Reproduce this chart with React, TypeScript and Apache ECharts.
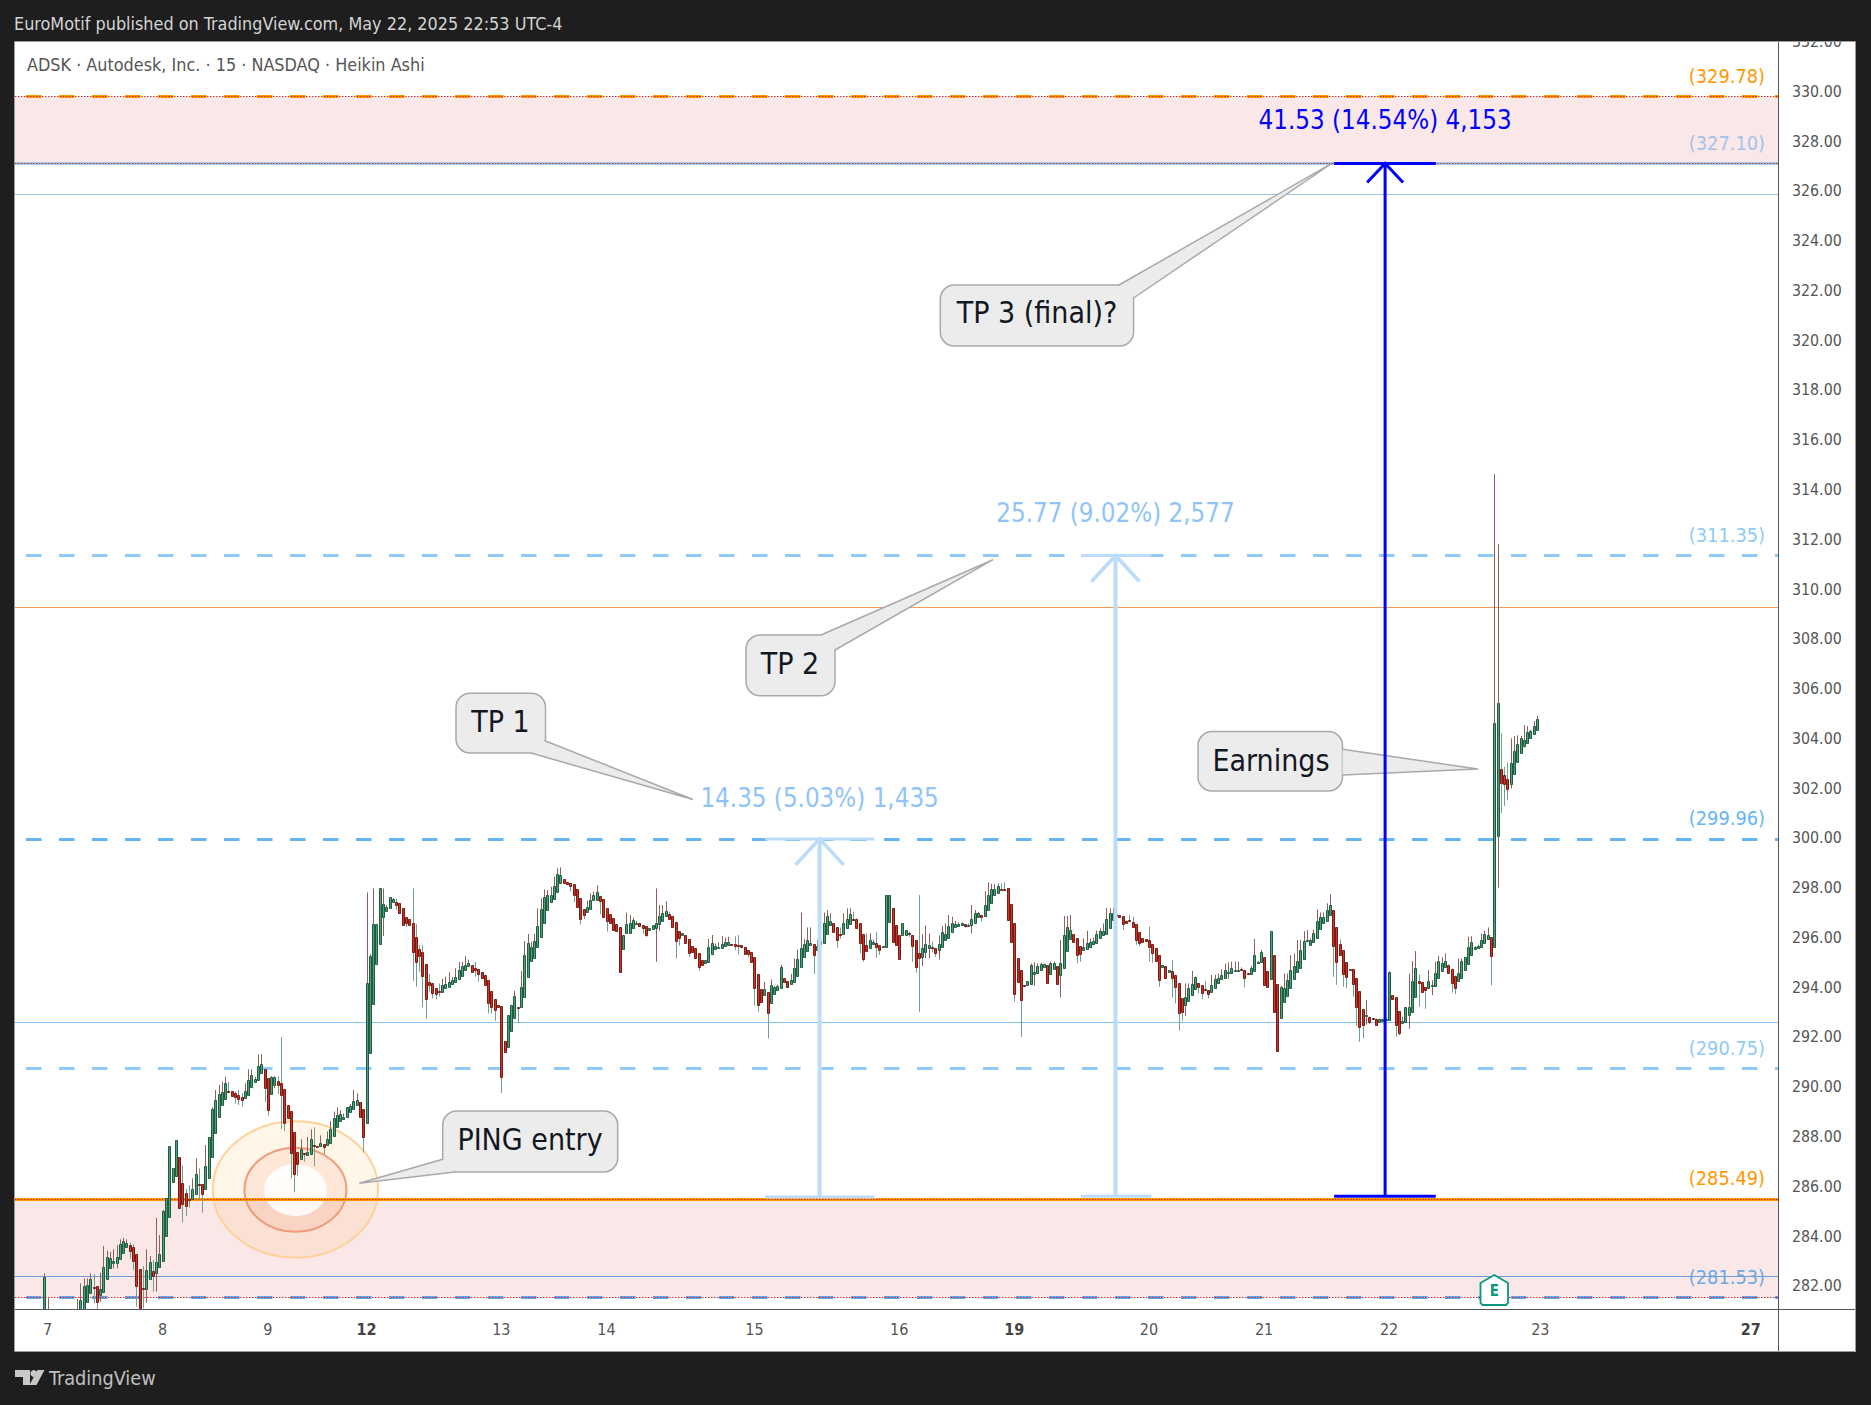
import React, { useEffect, useRef } from "react";
import * as echarts from "echarts";

const FONT = "DejaVu Sans Condensed, DejaVu Sans, sans-serif";

const headerText = "EuroMotif published on TradingView.com, May 22, 2025 22:53 UTC-4";
const symbolText = "ADSK · Autodesk, Inc. · 15 · NASDAQ · Heikin Ashi";
const brandText = "TradingView";

const priceTicks = [282, 284, 286, 288, 290, 292, 294, 296, 298, 300, 302, 304, 306, 308, 310, 312, 314, 316, 318, 320, 322, 324, 326, 328, 330, 332];
const dayLabels = ["7", "8", "9", "12", "13", "14", "15", "16", "19", "20", "21", "22", "23", "27"];
const dayBars = [1, 36, 68, 98, 139, 171, 216, 260, 295, 336, 371, 409, 455, 519];
const boldDays = ["12", "19", "27"];

const zoneUpper = [327.1, 329.78];
const zoneLower = [281.53, 285.49];
const targetLevels = [329.78, 327.1, 311.35, 299.96, 290.75, 285.49, 281.53];
const plainLevels = [325.85, 309.26, 292.6, 282.37];

const measureNames = ["14.35 (5.03%) 1,435", "25.77 (9.02%) 2,577", "41.53 (14.54%) 4,153"];
const measureBars = [235.8, 325.8, 407.8];
const measureCapStart = [219.2, 315.3, 392.3];
const measureCapEnd = [252.5, 336.7, 423.2];
const measureFrom = [285.57, 285.6, 285.6];
const measureTo = [299.96, 311.35, 327.1];

// [open, close, low, high] per 15-minute Heikin Ashi bar; null = below the visible range
const candles: (number[] | null)[] = [
  [280.6,282.34,280.5,282.5],[280.5,280.9,280.3,281.5],null,null,null,null,null,null,null,null,
  [280.6,280.9,280.4,281.47],[280.7,281.43,280.6,282.1],[281,282,281,282.3],[281.36,282.02,281.36,282.3],[281.7,282.26,281.7,282.5],
  [281.97,281.9,281.3,282.48],[282,281.36,281.03,282],[281.63,281.86,281.36,282.53],[281.77,282.77,281.77,283.6],[282.26,283.15,282.26,283.41],
  [282.7,283.1,282.7,283.36],[282.9,283,282.7,283.47],[282.93,283.15,282.7,283.64],[283.07,283.67,283.07,283.87],[283.33,283.79,283.33,283.92],
  [283.57,283.71,283.57,283.87],[283.65,283.41,283.09,283.74],[283.55,283.01,282.64,283.68],[283.27,282.01,281.16,283.27],[282.66,281.11,281.03,282.66],
  [281.9,281.86,281.1,282.8],[281.86,282.64,281.32,283.47],[282.26,282.95,282.26,283.2],[282.58,282.41,281.77,283.04],[282.5,282.95,281.77,284.73],
  [282.74,283.28,282.74,284.04],[283.01,285,283.01,285.05],[284,285.52,284,285.52],[284.75,287.61,284.75,287.61],[286.19,286.72,286.19,286.72],
  [286.43,287.85,286.43,287.85],[287.16,285.12,285.12,287.16],[286.12,285.28,284.54,286.84],[285.72,285.22,284.81,285.89],[285.5,285.47,285.14,286.05],
  [285.48,285.88,285.48,286.32],[285.68,286.48,285.68,287.12],[286.08,286.05,285.45,286.72],[286.08,285.68,284.94,286.08],[285.88,286.8,285.88,287.66],
  [286.32,287.97,286.32,287.97],[287.16,289.09,287.16,289.17],[288.13,289.45,288.13,289.87],[288.77,289.69,288.77,290.07],[289.25,289.78,289.25,290.2],
  [289.49,290.14,289.49,290.4],[289.82,289.79,289.79,290.2],[289.82,289.61,289.61,289.82],[289.74,289.57,289.33,289.81],[289.65,289.49,289.27,289.87],
  [289.57,289.45,289.2,289.74],[289.53,289.82,289.53,290.14],[289.65,290.26,289.65,290.7],[289.98,290.46,289.98,290.7],[290.2,290.3,290.2,290.4],
  [290.26,290.82,290.26,291.29],[290.54,290.9,290.54,291.32],[290.7,289.94,289.39,290.7],[290.34,289.05,288.84,290.34],[289.69,290.38,289.69,290.42],
  [290.06,290.38,289.94,290.42],[290.22,290.06,289.71,290.42],[290.14,289.65,288.3,291.99],[289.9,288.56,288.22,289.9],[289.25,288.76,288.76,289.25],
  [289.01,287.35,286.32,289.01],[288.17,286.51,285.76,288.17],[287.39,286.91,286.43,287.39],[287.11,287.48,287.11,287.89],[287.32,287.28,286.99,287.32],
  [287.27,287.36,287.27,287.98],[287.31,287.89,287.31,288.29],[287.65,287.62,286.81,288.37],[287.6,287.58,287.58,287.62],[287.6,287.73,287.6,288.05],
  [287.68,287.59,287.3,287.68],[287.65,287.89,287.65,288.2],[287.75,288.29,287.75,288.62],[288.01,288.73,288.01,289],[288.37,288.85,288.37,289.17],
  [288.61,288.89,288.61,289.06],[288.7,288.8,288.7,288.93],[288.77,289.17,288.77,289.17],[288.97,289.21,288.97,289.3],[289.09,289.41,289.09,289.87],
  [289.25,289.45,289.25,289.74],[289.37,288.8,288.8,289.37],[289.09,287.97,287.36,289.09],[288.53,294.15,288.53,297.81],[291.34,295.25,291.34,295.32],
  [293.31,296.54,293.31,297.97],[294.92,296.54,294.92,296.54],[295.72,297.97,295.72,297.97],[296.83,297.33,296.06,297.97],[297.07,297.23,297.07,297.3],
  [297.17,297.61,297.17,297.61],[297.41,297.53,297.41,297.59],[297.44,297.29,297.1,297.57],[297.37,296.97,296.97,297.37],[297.17,296.48,296.48,297.17],
  [296.83,296.6,296.43,296.83],[296.73,296.48,296.48,296.73],[296.6,295.43,294.26,297.97],[296,295.02,294.02,296.54],[295.52,295.27,294.62,295.69],
  [295.4,294.46,293.2,295.69],[294.92,293.51,292.73,294.92],[294.19,294.07,293.82,294.53],[294.15,293.75,293.55,294.15],[293.95,293.71,293.51,293.95],
  [293.83,293.8,293.62,294.15],[293.82,294.07,293.82,294.35],[293.95,294.11,293.95,294.42],[294,294.19,294,294.6],[294.11,294.27,294.11,294.42],
  [294.19,294.43,294.19,294.76],[294.31,294.68,294.31,295.01],[294.47,294.84,294.47,295.01],[294.68,294.9,294.68,295.25],[294.84,294.96,294.84,295.11],
  [294.88,294.6,294.6,294.88],[294.76,294.68,294.42,295.01],[294.72,294.52,294.22,294.72],[294.6,294.39,294.35,294.6],[294.48,294.07,294.07,294.48],
  [294.27,293.35,292.95,294.27],[293.83,293.19,292.95,293.83],[293.51,293.07,292.65,293.51],[293.27,293.2,293.2,293.27],[293.24,290.4,289.75,293.24],
  [291.82,291.41,291.41,291.82],[291.61,292.87,291.61,292.87],[292.25,293.27,292.25,293.27],[292.77,293.63,292.77,293.85],[293.2,293.15,292.55,293.2],
  [293.19,294.01,293.19,294.65],[293.59,295.28,293.59,295.85],[294.42,295.76,294.42,296.14],[295.07,295.6,295.07,295.83],[295.19,295.84,295.19,296.14],
  [295.6,296.44,295.6,297.17],[296,297.14,296,297.57],[296.56,297.61,296.56,297.93],[297.09,297.69,297.09,297.9],[297.41,297.69,297.41,298.04],
  [297.53,298.05,297.53,298.44],[297.81,298.53,297.81,298.78],[298.17,298.49,298.17,298.82],[298.33,298.17,298.17,298.33],[298.24,298.15,298.15,298.24],
  [298.17,298.05,297.85,298.17],[298.13,297.69,297.41,298.13],[297.93,297.21,297.21,297.93],[297.57,296.73,296.52,297.57],[297.13,296.89,296.73,297.13],
  [297.01,297.21,297.01,297.48],[297.13,297.49,297.13,297.77],[297.49,297.69,297.49,297.84],[297.49,297.81,297.49,298.1],[297.65,297.45,296.93,297.65],
  [297.53,296.81,296.81,297.53],[297.17,296.65,296.24,297.17],[296.93,296.6,296.6,296.93],[296.77,296.28,296.28,296.77],[296.52,296.24,296.24,296.52],
  [296.4,294.62,294.62,296.4],[295.52,296.08,295.52,296.08],[296.16,296.52,296.16,297],[296.16,296.56,296.16,296.9],[296.36,296.71,296.36,296.8],
  [296.52,296.6,296.52,296.66],[296.56,296.44,296.44,296.56],[296.48,296.36,296.16,296.48],[296.44,296.08,296.02,296.44],[296.28,296.36,296.28,296.36],
  [296.32,296.48,296.32,296.48],[296.36,296.6,295.02,297.97],[296.52,296.85,296.27,297.3],[296.68,296.97,296.68,297.3],[296.85,297.05,296.85,297.46],
  [296.93,296.73,296.73,297.03],[296.85,296.4,296.4,296.85],[296.64,295.84,295.15,296.64],[296.24,295.96,295.67,296.24],[296.08,296.16,296.08,296.16],
  [296.08,295.76,295.76,296.08],[295.92,295.39,295.23,295.92],[295.64,295.43,295.43,295.64],[295.56,295.16,295.16,295.56],[295.36,294.8,294.66,295.36],
  [295.08,294.88,294.88,295.08],[294.96,295.08,294.96,295.08],[295,295.6,295,295.94],[295.32,295.76,295.32,296.1],[295.52,295.64,295.52,295.76],
  [295.6,295.6,295.6,295.8],[295.56,295.72,295.56,296.05],[295.64,295.8,295.64,296],[295.71,295.8,295.71,296.03],[295.73,295.68,295.68,295.73],
  [295.72,295.67,295.5,296.05],[295.71,295.68,295.32,296.1],[295.68,295.6,295.6,295.68],[295.63,295.32,295.32,295.63],[295.48,295.32,295.2,295.48],
  [295.4,295,295,295.4],[295.2,293.95,293.26,295.2],[294.55,293.27,293,294.55],[293.91,293.39,293.39,293.91],[293.67,293.91,293.67,294.22],
  [293.79,292.95,291.94,293.79],[293.35,294.07,293.35,294.31],[293.71,293.99,293.71,294.05],[293.87,294.03,293.87,294.1],[293.95,294.8,293.95,294.9],
  [294.35,294.19,294.19,294.35],[294.23,293.99,293.99,294.23],[294.11,294.27,294.11,294.54],[294.19,294.76,294.19,295.16],[294.47,295.12,294.47,295.52],
  [294.8,295.56,294.8,297],[295.2,295.72,295.2,295.94],[295.44,295.88,295.44,296.4],[295.68,295.76,295.68,296.4],[295.72,295.28,294.54,295.72],
  [295.48,295.64,295.48,295.9],[295.72,295.84,295.72,296.23],[295.76,296.56,295.76,297],[296.12,296.85,296.12,297.1],[296.48,296.68,296.48,296.97],
  [296.56,296.2,296.2,296.56],[296.4,295.88,295.59,296.4],[296.12,296.1,295.95,296.4],[296.12,296.56,296.12,296.97],[296.36,296.73,296.36,297.17],
  [296.52,296.93,296.52,297.17],[296.76,296.7,296.7,297.03],[296.76,296.36,296.36,296.76],[296.56,295.76,295.36,296.56],[296.14,295.14,295.02,296.14],
  [295.68,295.44,295.44,296.16],[295.56,295.88,295.56,296.16],[295.72,295.8,295.72,295.9],[295.76,295.6,295.18,296.23],[295.68,295.48,295.3,295.68],
  [295.6,295.64,295.6,295.64],[295.6,297.69,295.6,297.69],[296.64,297.69,296.64,297.69],[297.17,295.8,295.8,297.17],[296.48,295.68,295.68,296.48],
  [296.08,295.12,295.12,296.08],[296.08,296.56,296.08,296.56],[296.08,296.28,296.08,296.28],[296.16,296.14,296.02,296.24],[296.08,295.64,295.02,296.08],
  [295.88,294.8,294.58,295.88],[295.36,295.16,293.01,297.7],[295.22,295.56,294.85,296.12],[295.4,295.72,295.16,296.48],[295.56,295.68,295.16,296.16],
  [295.6,295.56,295.4,295.83],[295.56,295.36,295.22,295.56],[295.48,295.72,295.11,296.08],[295.6,296.2,295.6,296.47],[295.88,296.12,295.88,296.56],
  [295.96,296.44,295.96,296.9],[296.2,296.6,296.2,296.83],[296.4,296.52,296.4,296.67],[296.44,296.52,296.44,296.6],[296.48,296.56,296.48,296.6],
  [296.52,296.44,296.4,296.52],[296.48,296.5,296.48,296.55],[296.48,296.76,296.16,297.3],[296.6,297,296.6,297.1],[296.81,296.97,296.81,297.03],
  [296.89,296.81,296.63,296.89],[296.85,297.29,296.85,297.86],[297.09,297.69,297.09,298.21],[297.37,297.93,297.37,298.15],[297.69,297.93,297.69,298.15],
  [297.77,298.05,297.77,298.17],[297.95,297.93,297.93,298.17],[297.95,297.93,297.93,298.21],[297.97,296.69,296.69,297.97],[297.33,295.8,295.8,297.33],
  [296.56,293.71,293.42,296.56],[295.16,294.19,294.19,295.16],[294.68,293.47,292.01,294.68],[294.08,294.06,294.06,294.08],[294.07,294.23,294.07,294.23],
  [294.11,294.88,294.11,294.95],[294.52,294.6,294.06,295],[294.56,294.84,294.56,294.96],[294.68,294.92,294.68,294.99],[294.8,294.92,294.8,294.95],
  [294.88,294.15,294.15,294.88],[294.52,294.96,294.52,295.03],[294.72,294.96,294.72,295.03],[294.84,294.11,294.11,294.84],[294.48,294.99,293.59,295.9],
  [294.76,296.08,294.76,296.86],[295.44,296.4,295.44,296.86],[295.92,296.28,295.92,296.9],[296.12,295.8,295.8,296.12],[295.96,295.28,294.96,295.96],
  [295.64,295.32,295.02,295.64],[295.48,295.6,295.48,295.96],[295.52,295.76,295.52,296.27],[295.6,295.8,295.6,295.96],[295.72,295.84,295.72,296],
  [295.76,296.12,295.76,296.27],[295.96,296.24,295.96,296.36],[296.08,296.24,296.08,296.56],[296.12,296.76,296.12,297.19],[296.36,296.97,296.36,297.17],
  [296.72,296.97,296.72,297.19],[296.85,296.93,296.85,297.1],[296.89,296.81,296.81,296.89],[296.85,296.52,296.3,296.85],[296.68,296.6,296.56,296.68],
  [296.69,296.68,296.68,296.9],[296.64,296.4,296.4,296.83],[296.52,295.88,295.7,296.52],[296.2,295.76,295.65,296.2],[295.96,295.8,295.8,295.96],
  [295.92,295.84,295.84,295.92],[295.88,295.6,295.02,296.43],[295.72,295.36,294.98,295.72],[295.56,295.04,295.04,295.56],[295.28,294.27,294.02,295.28],
  [294.8,294.88,294.8,294.88],[294.84,294.39,294.39,294.84],[294.6,294.68,294.6,294.68],[294.64,294.35,293.58,295.09],[294.48,294.02,293.35,294.48],
  [294.15,292.95,292.25,294.15],[293.55,292.99,292.65,293.55],[293.27,293.59,292.85,294.15],[293.43,293.95,293.43,294.15],[293.67,294.11,293.67,294.66],
  [293.91,294.43,293.91,294.43],[294.15,293.99,293.75,294.15],[294.07,293.75,293.51,294.07],[293.91,293.89,293.89,294.25],[293.87,293.71,293.55,293.87],
  [293.79,294.07,293.79,294.49],[293.95,294.31,293.95,294.49],[294.15,294.39,294.15,294.55],[294.31,294.51,294.31,294.71],[294.39,294.68,294.39,294.95],
  [294.58,294.6,294.35,295],[294.56,294.76,294.56,295.03],[294.68,294.69,294.68,295.03],[294.68,294.69,294.68,295.03],[294.72,294.71,294.7,294.8],
  [294.68,294.35,294,294.68],[294.56,294.55,294.55,294.56],[294.52,294.76,294.52,294.86],[294.64,295.28,294.64,295.94],[295,295,295,295.05],
  [295,295.4,295,295.5],[295.2,294.07,294.07,295.2],[294.64,293.99,293.99,294.64],[294.31,296.24,294.31,296.24],[295.28,292.99,292.99,295.28],
  [294.11,291.42,291.42,294.11],[292.78,293.99,292.78,294.05],[293.39,293.95,293.39,294.55],[293.63,294.27,293.63,294.55],[293.95,294.68,293.95,295.29],
  [294.31,294.84,294.31,295.35],[294.6,295.04,294.6,295.9],[294.76,295.48,294.76,295.9],[295.12,295.84,295.12,296.25],[295.88,295.9,295.88,296.3],
  [295.68,295.88,295.68,295.96],[295.8,296.16,295.8,296.32],[295.96,296.68,295.96,297.13],[296.32,296.81,296.32,297],[296.56,296.81,296.56,297],
  [296.68,297.09,296.68,297.37],[296.89,297.29,296.89,297.73],[297.09,295.67,294.42,297.09],[296.4,295,294.1,296.4],[295.72,295.28,295.28,295.92],
  [295.48,294.52,294.02,295.48],[295,294.43,293.95,295],[294.72,294.71,294.71,294.72],[294.72,294.11,293.62,294.72],[294.39,293.21,292.44,294.39],
  [293.83,292.41,291.81,293.83],[293.11,292.49,291.94,293.11],[292.85,292.88,292.5,293.48],[292.82,292.61,292.52,292.82],[292.75,292.74,292.74,292.75],
  [292.74,292.49,292.49,292.74],[292.61,292.74,292.61,292.74],[292.65,292.73,292.65,292.73],[292.72,292.74,292.72,292.74],[292.69,294.63,292.69,294.63],
  [293.67,293.51,293.51,293.67],[293.59,292.49,292.01,293.59],[293.03,292.17,292.07,293.03],[292.58,292.66,292.58,292.81],[292.61,293.19,292.61,293.19],
  [292.89,293.19,292.33,294.55],[293.01,294.23,293.01,295.05],[293.62,294.79,293.62,295.45],[294.23,294.15,293.21,294.5],[294.19,293.82,293.82,294.19],
  [293.99,293.87,293.13,293.99],[293.95,294.23,293.95,294.69],[294.07,294.08,293.68,294.28],[294.06,294.59,294.06,295.02],[294.35,295.04,294.35,295.25],
  [294.67,294.99,294.67,295.2],[294.83,295.04,294.83,295.36],[294.91,294.59,294.59,294.91],[294.75,294.15,293.78,294.75],[294.47,293.98,293.72,294.47],
  [294.23,294.59,294.23,295.15],[294.39,295.04,294.39,295.15],[294.71,295.2,294.71,295.22],[294.95,295.6,294.95,296.03],[295.28,295.8,295.28,296.05],
  [295.52,295.6,295.52,295.65],[295.56,295.64,295.56,295.7],[295.6,295.88,295.6,296.16],[295.76,296.12,295.76,296.27],[295.92,296.08,295.92,296.4],
  [296,295.24,294.08,296],[295.63,304.6,295.63,314.62],[300.09,305.44,298,311.8],[302.75,302.21,301,304.2],[302.51,302.15,301.29,302.86],
  [302.35,301.97,301.52,303.02],[302.15,302.99,301.98,304],[302.55,303.51,302.55,304.09],[303.03,303.79,303.03,304.12],[303.43,304,303.43,304.1],
  [303.71,303.95,303.63,304.53],[303.83,304.24,303.83,304.49],[304.03,304.28,304.03,304.35],[304.16,304.48,304.16,304.69],[304.32,304.76,304.32,304.9],
];

const level = (value: number, color: string, width: number, type: any, dashOffset = 0) => ({
  yAxis: value,
  lineStyle: { color, width, type, dashOffset, opacity: 1 },
  label: { show: false },
});
const labelled = (value: number, color: string, width: number, type: any, dashOffset: number, labelColor: string) => ({
  yAxis: value,
  lineStyle: { color, width, type, dashOffset, opacity: 1 },
  label: {
    show: true,
    position: "insideEndTop",
    formatter: `(${value.toFixed(2)})`,
    color: labelColor,
    fontSize: 19.8,
    fontFamily: FONT,
    distance: [13, 10],
  },
});

function callout(box: number[], tail: number[][], text: string, textAt: number[]) {
  const [x, y, w, h] = box;
  const common = { silent: true, z: 5.5 };
  return [
    { type: "rect", shape: { x, y, width: w, height: h, r: 14 }, style: { fill: "#ececec", stroke: "#a9a9ad", lineWidth: 1.5 }, ...common },
    { type: "polygon", shape: { points: tail }, style: { fill: "#ececec" }, ...common },
    { type: "polyline", shape: { points: tail }, style: { fill: "none", stroke: "#a9a9ad", lineWidth: 1.5 }, ...common },
    {
      type: "text", x: textAt[0], y: textAt[1],
      style: { text, fill: "#131722", fontSize: 30, fontFamily: FONT, align: "center", verticalAlign: "middle", textAlign: "center", textVerticalAlign: "middle" },
      ...common, z: 5.6,
    },
  ];
}

export default function App() {
  const ref = useRef<HTMLDivElement>(null);
  useEffect(() => {
    document.body.style.margin = "0";
    document.body.style.background = "#1e1e1e";
    const chart = echarts.init(ref.current!, undefined, { renderer: "svg" });

    const S1 = [15.5, 17.5];
    const candleData = candles.map((r, i) => (r ? [i, ...r] : null)).filter(Boolean);
    const measureLift = [41, 42, 43];

    const option: any = {
      animation: false,
      backgroundColor: "#1e1e1e",
      grid: { left: 15, top: 41.5, width: 1763, height: 1267.5, containLabel: false },
      xAxis: {
        type: "value", min: -8.91, max: 527.3, z: 2,
        splitLine: { show: false },
        axisTick: { show: false },
        axisLine: { show: true, onZero: false, lineStyle: { color: "#555", width: 1 } },
        axisLabel: {
          customValues: dayBars, margin: 12, hideOverlap: false, showMinLabel: true, showMaxLabel: true,
          color: "#555", fontSize: 16, fontFamily: FONT,
          formatter: (v: number) => {
            const t = dayLabels[dayBars.indexOf(v)] ?? "";
            return boldDays.includes(t) ? `{b|${t}}` : t;
          },
          rich: { b: { fontWeight: "bold", color: "#444", fontSize: 16, fontFamily: FONT } },
        },
      },
      yAxis: {
        type: "value", position: "right", min: 281.07, max: 332, z: 2,
        splitLine: { show: false },
        axisTick: { show: false },
        axisLine: { show: true, onZero: false, lineStyle: { color: "#555", width: 1 } },
        axisLabel: {
          customValues: priceTicks, margin: 14, hideOverlap: false, showMinLabel: true, showMaxLabel: true,
          color: "#555", fontSize: 15.8, fontFamily: FONT, padding: [2, 0, 0, 0],
          formatter: (v: number) => v.toFixed(2),
        },
      },
      series: [
        {
          type: "line", name: "levels", data: [], z: 1, silent: true,
          markArea: {
            silent: true, z: 1,
            itemStyle: { color: "#fae8e8", opacity: 1 },
            data: [
              [{ yAxis: zoneUpper[0] }, { yAxis: zoneUpper[1] }],
              [{ yAxis: zoneLower[0] }, { yAxis: zoneLower[1] }],
            ],
          },
          markLine: {
            silent: true, z: 4, symbol: "none", animation: false,
            data: [
              level(plainLevels[0], "#9cc8ea", 1, "solid"),
              level(plainLevels[1], "#f29c54", 1, "solid"),
              level(plainLevels[2], "#82c4f8", 1, "solid"),
              level(plainLevels[3], "#6d9bdc", 1, "solid"),
              labelled(targetLevels[0], "#ff9800", 3, S1, 21.5, "#ff9800"),
              labelled(targetLevels[1], "#90bfee", 2.5, "solid", 0, "#a3c2e8"),
              labelled(targetLevels[2], "#90caf9", 3, S1, 21.5, "#90caf9"),
              labelled(targetLevels[3], "#64b5f6", 3, S1, 21.5, "#64b5f6"),
              labelled(targetLevels[4], "#90caf9", 3, S1, 21.5, "#90caf9"),
              labelled(targetLevels[5], "#ff9800", 3, "solid", 0, "#ff9800"),
              labelled(targetLevels[6], "#64a5ea", 3, S1, 21.5, "#6fa8e0"),
              level(zoneUpper[1], "#cc2f2f", 1, [1.5, 1.5]),
              level(zoneUpper[0], "#cc2f2f", 1, [1.5, 1.5]),
              level(zoneLower[1], "#cc2f2f", 1, [1.5, 1.5]),
              level(zoneLower[0], "#cc2f2f", 1, [1.5, 1.5]),
            ],
          },
        },
        {
          type: "custom", name: "ADSK", z: 5, silent: true, clip: true,
          encode: { x: 0, y: [1, 2, 3, 4] },
          data: candleData,
          renderItem: (_p: any, api: any) => {
            const idx = api.value(0), o = api.value(1), c = api.value(2), l = api.value(3), h = api.value(4);
            const up = c >= o;
            const px = Math.round(api.coord([idx, o])[0]) + 0.5;
            const yO = api.coord([idx, o])[1], yC = api.coord([idx, c])[1];
            const yH = api.coord([idx, h])[1], yL = api.coord([idx, l])[1];
            const top = Math.round(Math.min(yO, yC)) + 0.5;
            const bot = Math.max(top + 1, Math.round(Math.max(yO, yC)) + 0.5);
            return {
              type: "group",
              children: [
                {
                  type: "line", shape: { x1: px, y1: yH, x2: px, y2: yL },
                  style: { stroke: up ? "#8f5f5c" : "#749f8d", lineWidth: 1 },
                },
                {
                  type: "rect", shape: { x: px - 1, y: top, width: 2, height: bot - top },
                  style: { fill: up ? "#4f9f7a" : "#d0352a", stroke: up ? "#1f5c40" : "#7a1c14", lineWidth: 1 },
                },
              ],
            };
          },
        },
        {
          type: "custom", name: "measures", z: 6, silent: true,
          encode: { x: 0, y: [3, 4] },
          data: measureBars.map((b, i) => [b, measureCapStart[i], measureCapEnd[i], measureFrom[i], measureTo[i]]),
          renderItem: (p: any, api: any) => {
            const i = p.dataIndex;
            const dark = i === 2;
            const color = dark ? "#0000ff" : "#bbdcfa";
            const textColor = dark ? "#0000ff" : "#90c4f9";
            const lw = dark ? 3 : 4;
            const head = dark ? [18, 19] : [24, 26];
            const [cx, yTop] = api.coord([api.value(0), api.value(4)]);
            const [, yBot] = api.coord([api.value(0), api.value(3)]);
            const xs = api.coord([api.value(1), api.value(4)])[0];
            const xe = api.coord([api.value(2), api.value(4)])[0];
            const s = { stroke: color, lineWidth: lw, fill: "none" };
            const s2 = { stroke: color, lineWidth: 3, fill: "none" };
            const s3 = { stroke: color, lineWidth: dark ? 3 : 3.6, fill: "none" };
            return {
              type: "group",
              children: [
                { type: "line", shape: { x1: cx, y1: yTop, x2: cx, y2: yBot }, style: s },
                { type: "line", shape: { x1: xs, y1: yTop, x2: xe, y2: yTop }, style: s2 },
                { type: "line", shape: { x1: xs, y1: yBot, x2: xe, y2: yBot }, style: s2 },
                { type: "polyline", shape: { points: [[cx - head[0], yTop + head[1]], [cx, yTop], [cx + head[0], yTop + head[1]]] }, style: s3 },
                {
                  type: "text", x: cx, y: yTop - measureLift[i],
                  style: { text: measureNames[i], fill: textColor, fontSize: 25.7, fontFamily: FONT, align: "center", verticalAlign: "middle", textAlign: "center", textVerticalAlign: "middle" },
                },
              ],
            };
          },
        },
      ],
      graphic: [
        { type: "rect", z: -1, silent: true, shape: { x: 15, y: 42, width: 1841, height: 1310 }, style: { fill: "#ffffff" } },
        { type: "ellipse", z: 3, silent: true, shape: { cx: 295.4, cy: 1189.5, rx: 82.6, ry: 68.2 }, style: { fill: "rgba(255,152,0,0.09)", stroke: "#ffd199", lineWidth: 2 } },
        { type: "ellipse", z: 3.1, silent: true, shape: { cx: 295.4, cy: 1189.7, rx: 51, ry: 42 }, style: { fill: "rgba(240,90,40,0.09)", stroke: "#ef9b78", lineWidth: 2 } },
        { type: "ellipse", z: 3.2, silent: true, shape: { cx: 295.4, cy: 1190, rx: 31.4, ry: 26 }, style: { fill: "rgba(255,255,255,0.85)" } },

        ...callout([442.7, 1111, 175, 61], [[442.7, 1159.3], [359.3, 1183.3], [454.5, 1172]], "PING entry", [530, 1139]),
        ...callout([1198, 731.5, 144.5, 59.5], [[1342.5, 749.3], [1477.8, 769], [1342.5, 775]], "Earnings", [1271, 760]),
        ...callout([456, 693.3, 89.5, 59.7], [[545.5, 741], [693, 799.5], [531, 753]], "TP 1", [500.5, 721]),
        ...callout([746, 635, 89, 60.7], [[821, 635], [993, 559.7], [835, 650]], "TP 2", [790, 663.5]),
        ...callout([940.3, 285, 193.3, 61], [[1119, 285], [1331.7, 163.5], [1133.6, 298]], "TP 3 (final)?", [1037, 312.6]),

        { type: "polygon", z: 7, silent: true, shape: { points: [[1494.3, 1275], [1508, 1283], [1508, 1303], [1506, 1305], [1482.5, 1305], [1480.5, 1303], [1480.5, 1283]] }, style: { fill: "#ffffff", stroke: "#089981", lineWidth: 1.8 } },
        { type: "text", z: 7.1, silent: true, x: 1494.3, y: 1291, style: { text: "E", fill: "#089981", fontSize: 15, fontWeight: "bold", fontFamily: FONT, align: "center", verticalAlign: "middle", textAlign: "center", textVerticalAlign: "middle" } },

        { type: "rect", z: 10, silent: true, shape: { x: 0, y: 0, width: 1871, height: 41.5 }, style: { fill: "#1e1e1e" } },
        { type: "rect", z: 10.1, silent: true, shape: { x: 14.5, y: 41.5, width: 1841, height: 1310 }, style: { fill: "none", stroke: "#9a9a9a", lineWidth: 1 } },
        { type: "line", z: 9, silent: true, shape: { x1: 1778.5, y1: 1309, x2: 1778.5, y2: 1352 }, style: { stroke: "#555", lineWidth: 1 } },
        { type: "line", z: 9, silent: true, shape: { x1: 1778, y1: 1309.5, x2: 1856, y2: 1309.5 }, style: { stroke: "#555", lineWidth: 1 } },

        { type: "text", z: 11, silent: true, x: 14, y: 23, style: { text: headerText, fill: "#d4d4d4", fontSize: 17.85, fontFamily: FONT, align: "left", verticalAlign: "middle", textAlign: "left", textVerticalAlign: "middle" } },
        { type: "text", z: 11, silent: true, x: 27, y: 64, style: { text: symbolText, fill: "#555555", fontSize: 17.85, fontFamily: FONT, align: "left", verticalAlign: "middle", textAlign: "left", textVerticalAlign: "middle" } },

        { type: "polygon", z: 11, silent: true, shape: { points: [[15, 1370], [30, 1370], [30, 1385], [23, 1385], [23, 1377], [15, 1377]] }, style: { fill: "#c8c8c8" } },
        { type: "circle", z: 11, silent: true, shape: { cx: 33.8, cy: 1373.5, r: 3.4 }, style: { fill: "#c8c8c8" } },
        { type: "polygon", z: 11, silent: true, shape: { points: [[37.5, 1370], [44.5, 1370], [36.5, 1385], [29.5, 1385]] }, style: { fill: "#c8c8c8" } },
        { type: "text", z: 11, silent: true, x: 49, y: 1378, style: { text: brandText, fill: "#c0c0c0", fontSize: 19.7, fontFamily: FONT, align: "left", verticalAlign: "middle", textAlign: "left", textVerticalAlign: "middle" } },
      ],
    };
    chart.setOption(option);
    return () => chart.dispose();
  }, []);
  return <div ref={ref} style={{ position: "absolute", left: 0, top: 0, width: 1871, height: 1405 }} />;
}
